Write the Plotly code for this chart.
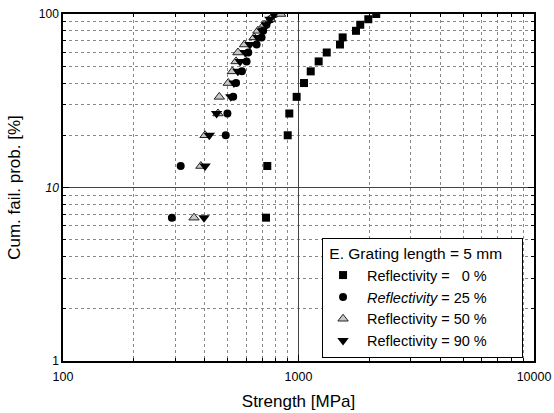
import plotly.graph_objects as go

prob = [6.7, 13.3, 20.0, 26.7, 33.3, 40.0, 46.7, 53.3, 60.0, 66.7, 73.3, 80.0, 86.7, 93.3, 100.0]
r0 = [728, 737, 900, 914, 982, 1055, 1127, 1218, 1318, 1500, 1540, 1754, 1829, 1979, 2138]
r25 = [290, 316, 491, 499, 528, 543, 575, 602, 612, 664, 697, 708, 731, 762, 793]
r50 = [360, 385, 401, 455, 461, 503, 524, 543, 553, 590, 648, 672, 714, 760, 840]
r90 = [397, 401, 418, 449, 516, 532, 553, 565, 594, 622, 672, 700, 728, 756, 786]

names = ["\u00a0Reflectivity = \u00a0\u00a00 %", "\u00a0<i>Reflectivity</i> = 25 %",
         "\u00a0Reflectivity = 50 %", "\u00a0Reflectivity = 90 %"]
legend_title = "\u00a0E. Grating length = 5 mm\u00a0\u00a0\u00a0\u00a0"
xtick_vals = [100, 1000, 10000]
xtick_text = ["100", "1000", "10000"]
ytick_vals = [1, 10, 100]
ytick_text = ["1", "<i>10</i>", "100"]

FONT = "Liberation Sans, Arial, sans-serif"

fig = go.Figure()
fig.add_trace(go.Scatter(x=r0, y=prob, mode="markers", name=names[0],
                         marker=dict(symbol="square", size=8, color="black")))
fig.add_trace(go.Scatter(x=r25, y=prob, mode="markers", name=names[1],
                         marker=dict(symbol="circle", size=8, color="black")))
fig.add_trace(go.Scatter(x=r50, y=prob, mode="markers", name=names[2],
                         marker=dict(symbol="triangle-up", size=9, color="#c8c8c8",
                                     line=dict(color="#222", width=1))))
fig.add_trace(go.Scatter(x=r90, y=prob, mode="markers", name=names[3],
                         marker=dict(symbol="triangle-down", size=10, color="black")))

axis_common = dict(
    type="log", showline=True, linecolor="black", linewidth=1.5, mirror="ticks",
    ticks="inside", ticklen=6, tickcolor="black", tickwidth=1,
    showgrid=True, gridcolor="#444", gridwidth=1, zeroline=False,
    minor=dict(dtick="D1", ticks="inside", ticklen=3, tickcolor="black",
               showgrid=True, gridcolor="#888", griddash="dot", gridwidth=1),
)

fig.update_xaxes(range=[2, 4], tickvals=xtick_vals, ticktext=xtick_text,
                 tickfont=dict(family=FONT, size=12.5, color="black"),
                 ticklabelstandoff=3,
                 title=dict(text="Strength [MPa]", font=dict(family=FONT, size=17, color="black"),
                            standoff=12),
                 **axis_common)
fig.update_yaxes(range=[0, 2], tickvals=ytick_vals, ticktext=ytick_text,
                 tickfont=dict(family=FONT, size=12, color="black"),
                 title=dict(text="Cum. fail. prob. [%]", font=dict(family=FONT, size=17, color="black"),
                            standoff=14),
                 **axis_common)

fig.update_layout(
    width=554, height=413,
    margin=dict(l=63, r=20, t=14, b=52, autoexpand=False),
    paper_bgcolor="white", plot_bgcolor="white",
    font=dict(family=FONT, size=15, color="black"),
    showlegend=True,
    legend=dict(x=0.55, y=0.3545, xanchor="left", yanchor="top",
                bgcolor="white", bordercolor="black", borderwidth=1,
                font=dict(family=FONT, size=14.5, color="black"),
                title=dict(text=legend_title, side="top",
                           font=dict(family=FONT, size=15.5, color="black"))),
)

fig.write_html("out.html")
